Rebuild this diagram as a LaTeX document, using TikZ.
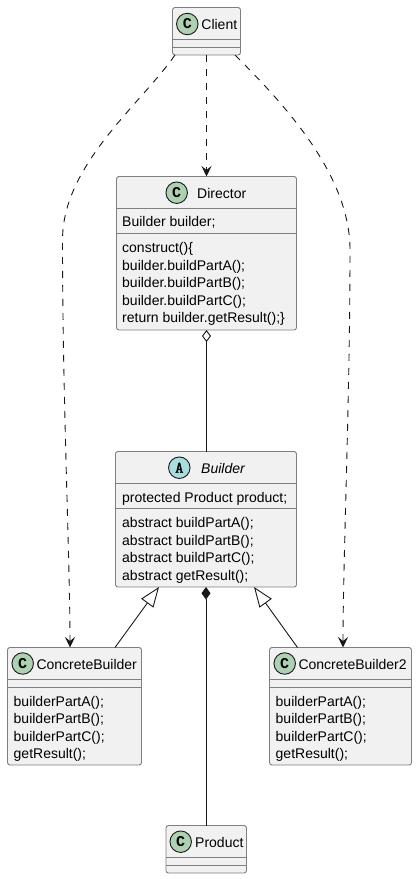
\documentclass[tikz,border=0pt]{standalone}
\usepackage{fontspec}
\setmainfont{Liberation Sans}
\newfontfamily\badgefont{Liberation Mono}
\newfontfamily\slabfont[FakeBold=2.5]{Latin Modern Mono}
\usetikzlibrary{arrows.meta,calc}
\definecolor{boxfill}{HTML}{F1F1F1}
\definecolor{boxline}{HTML}{7F7F7F}
\definecolor{edgeline}{HTML}{181818}
\definecolor{circC}{HTML}{ADD1B2}
\definecolor{circA}{HTML}{A9DCDF}
\tikzset{
  classbox/.style={draw=boxline,fill=boxfill,line width=0.9pt,rounded corners=2.5pt,inner sep=0pt,outer sep=0pt,anchor=north west},
  sep/.style={draw=boxline,line width=0.9pt},
  txt/.style={inner sep=0pt,anchor=base west,text=black,font=\fontsize{14}{16}\selectfont},
  badge/.style={circle,draw=edgeline,line width=0.9pt,minimum size=21.5pt,inner sep=0pt},
  badgeC/.style={badge,fill=circC,font=\fontsize{15}{15}\selectfont\badgefont\bfseries},
  badgeA/.style={badge,fill=circA,font=\fontsize{16}{16}\selectfont\slabfont},
  edge/.style={draw=edgeline,line width=0.9pt},
  dep/.style={edge,dash pattern=on 7pt off 7pt,-{Stealth[length=10.5pt,width=10pt,inset=4pt,fill=edgeline]}},
  inherit/.style={edge,{Triangle[open,fill=white,length=20pt,width=15pt,line width=0.9pt]}-},
  aggr/.style={edge,{Diamond[open,fill=white,length=12pt,width=9pt,line width=0.9pt]}-},
  comp/.style={edge,{Diamond[fill=edgeline,length=12.5pt,width=9pt]}-}
}
\begin{document}
\begin{tikzpicture}[x=1pt,y=-1pt]
\useasboundingbox[fill=white] (0,0) rectangle (417,879);
% Client
\node[classbox,minimum width=68pt,minimum height=47.5pt] (client) at (172.5,7.5) {};
\draw[sep] (172.5,39.5) -- (240.5,39.5) (172.5,47.5) -- (240.5,47.5);
\node[badgeC] (clientC) at (187.3,24) {C};
\node[txt] (clientT) at (201.2,29) {Client};
% Director
\node[classbox,minimum width=180pt,minimum height=153.5pt] (director) at (116.5,176.5) {};
\draw[sep] (116.5,208.5) -- (296.5,208.5) (116.5,233.5) -- (296.5,233.5);
\node[badgeC] (directorC) at (176.7,192.7) {C};
\node[txt] (directorT) at (197,198) {Director};
\node[txt] (d1) at (122,226.7) {Builder builder;};
\node[txt] (d2) at (122,252.3) {construct()\{};
\node[txt] (d3) at (122,270) {builder.buildPartA();};
\node[txt] (d4) at (122,287.6) {builder.buildPartB();};
\node[txt] (d5) at (122,305) {builder.buildPartC();};
\node[txt] (d6) at (122,322.7) {return builder.getResult();\}};
% Builder
\node[classbox,minimum width=181pt,minimum height=135.5pt] (builder) at (115.5,451.5) {};
\draw[sep] (115.5,483.5) -- (296.5,483.5) (115.5,508.5) -- (296.5,508.5);
\node[badgeA] (builderA) at (179.3,467.7) {A};
\node[txt,font=\fontsize{14}{16}\selectfont\itshape] (builderT) at (201,473) {Builder};
\node[txt] (b1) at (122,502) {protected Product product;};
\node[txt] (b2) at (122,527.3) {abstract buildPartA();};
\node[txt] (b3) at (122,545) {abstract buildPartB();};
\node[txt] (b4) at (122,562.5) {abstract buildPartC();};
\node[txt] (b5) at (122,580) {abstract getResult();};
% ConcreteBuilder
\node[classbox,minimum width=134pt,minimum height=117.5pt] (cb) at (7.5,647.5) {};
\draw[sep] (7.5,679.5) -- (141.5,679.5) (7.5,687.5) -- (141.5,687.5);
\node[badgeC] (cbC) at (22.7,663.5) {C};
\node[txt] (cbT) at (36.3,669) {ConcreteBuilder};
\node[txt] (c1) at (13.5,706) {builderPartA();};
\node[txt] (c2) at (13.5,723.4) {builderPartB();};
\node[txt] (c3) at (13.5,741) {builderPartC();};
\node[txt] (c4) at (13.5,758.3) {getResult();};
% ConcreteBuilder2
\node[classbox,minimum width=142pt,minimum height=117.5pt] (cbb) at (269.5,647.5) {};
\draw[sep] (269.5,679.5) -- (411.5,679.5) (269.5,687.5) -- (411.5,687.5);
\node[badgeC] (cbbC) at (284.7,663.5) {C};
\node[txt] (cbbT) at (298.3,669) {ConcreteBuilder2};
\node[txt] (e1) at (275.5,706) {builderPartA();};
\node[txt] (e2) at (275.5,723.4) {builderPartB();};
\node[txt] (e3) at (275.5,741) {builderPartC();};
\node[txt] (e4) at (275.5,758.3) {getResult();};
% Product
\node[classbox,minimum width=80.5pt,minimum height=47.5pt] (product) at (166,825.5) {};
\draw[sep] (166,857.5) -- (246.5,857.5) (166,865.5) -- (246.5,865.5);
\node[badgeC] (productC) at (180.7,841.7) {C};
\node[txt] (productT) at (195,847) {Product};
% Connectors
\draw[dep] (client.south) -- (client.south |- director.north);
\draw[dep] ($(client.south west)+(2.5,0)$) .. controls (140,105) and (62.5,165) .. (62.5,240) .. controls (62.5,400) and (70,560) .. ($(cb.north west)+(62.5,0)$);
\draw[dep] ($(client.south east)+(-5.5,0)$) .. controls (285,105) and (350,175) .. (350,250) .. controls (350,400) and (343,560) .. ($(cbb.north west)+(73.5,0)$);
\draw[aggr] (director.south) -- (director.south |- builder.north);
\draw[comp] (builder.south) -- (builder.south |- product.north);
\draw[inherit] ($(builder.south west)+(43.5,0)$) -- ($(cb.north west)+(107.5,0)$);
\draw[inherit] ($(builder.south east)+(-42.5,0)$) -- ($(cbb.north west)+(28,0)$);
\end{tikzpicture}
\end{document}
